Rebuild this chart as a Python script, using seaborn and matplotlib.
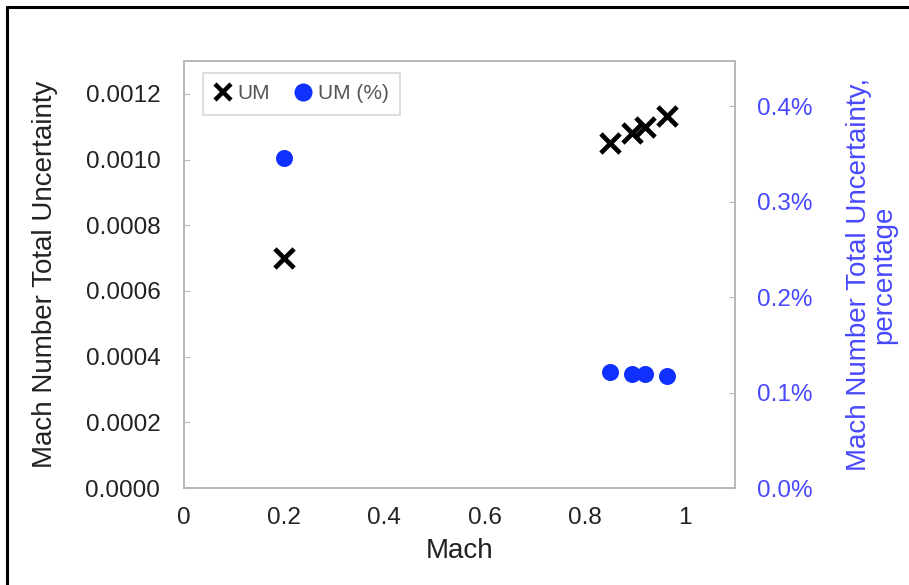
import numpy as np
import pandas as pd
import matplotlib
matplotlib.use("Agg")
import matplotlib.pyplot as plt
from matplotlib.lines import Line2D
from matplotlib.ticker import FuncFormatter
import seaborn as sns

# values
mach = [0.2, 0.85, 0.895, 0.92, 0.965]
um = [0.0007, 0.00105, 0.00108, 0.00110, 0.001132]
um_pct = [0.346, 0.122, 0.119, 0.119, 0.117]  # in %

df = pd.DataFrame({"Mach": mach, "UM": um, "UM_pct": um_pct})

sns.set_style("white")
plt.rcParams["font.family"] = ["Liberation Sans", "DejaVu Sans"]

blue = "#1030ff"
txt_blue = "#4848ff"
spine_grey = "#b8b8b8"

fig = plt.figure(figsize=(9.09, 5.85), dpi=100)
ax = fig.add_axes([0.2024, 0.1658, 0.6062, 0.7299])
ax2 = ax.twinx()

sns.scatterplot(data=df, x="Mach", y="UM", ax=ax, marker="x", s=190,
                color="black", linewidth=3.4, zorder=3)
sns.scatterplot(data=df, x="Mach", y="UM_pct", ax=ax2, marker="o", s=150,
                color=blue, edgecolor=blue, linewidth=0, zorder=3)

ax.set_xlim(0, 1.1)
ax.set_ylim(0, 0.0013)
ax2.set_ylim(0, 0.4475)
ax.set_xticks([0, 0.2, 0.4, 0.6, 0.8, 1.0])
ax.set_xticklabels(["0", "0.2", "0.4", "0.6", "0.8", "1"])
ax.set_yticks(np.arange(0, 0.00121, 0.0002))
ax.yaxis.set_major_formatter(FuncFormatter(lambda v, p: f"{v:.4f}"))
ax2.set_yticks([0, 0.1, 0.2, 0.3, 0.4])
ax2.yaxis.set_major_formatter(FuncFormatter(lambda v, p: f"{v:.1f}%"))

for a in (ax, ax2):
    for s in a.spines.values():
        s.set_color(spine_grey)
        s.set_linewidth(1.2)
    a.grid(False)

ax.tick_params(axis="both", direction="in", length=4, color=spine_grey,
               labelsize=17.5, labelcolor="#222222", pad=14)
ax.tick_params(axis="y", pad=17)
ax2.tick_params(axis="y", direction="in", length=4, color=spine_grey,
                labelsize=17.5, labelcolor=txt_blue, pad=16)

ax.set_xlabel("Mach", fontsize=20, color="#222222", labelpad=6)
ax.set_ylabel("Mach Number Total Uncertainty", fontsize=20, color="#222222", labelpad=20)
ax2.set_ylabel("Mach Number Total Uncertainty,\npercentage", fontsize=20,
               color=txt_blue, labelpad=24, linespacing=0.95)

handles = [
    Line2D([], [], marker="x", color="black", linestyle="none", markersize=12, markeredgewidth=3.2),
    Line2D([], [], marker="o", color=blue, linestyle="none", markersize=13, markeredgewidth=0),
]
leg = ax.legend(handles, ["UM", "UM (%)"], loc="upper left", ncol=2, fontsize=15,
                frameon=True, fancybox=False, handlelength=0.8, handletextpad=0.3,
                columnspacing=1.2, borderpad=0.55, borderaxespad=0,
                bbox_to_anchor=(0.034, 0.972), labelcolor="#555555")
leg.get_frame().set_edgecolor("#cccccc")
leg.get_frame().set_linewidth(1.2)

# outer frame of the picture (left and top edges)
fig.add_artist(Line2D([7 / 909, 7 / 909], [0, 1 - 7 / 585], color="black", lw=2.2,
                      transform=fig.transFigure))
fig.add_artist(Line2D([7 / 909, 1], [1 - 7 / 585, 1 - 7 / 585], color="black", lw=2.2,
                      transform=fig.transFigure))

fig.savefig("out.png", dpi=100)
